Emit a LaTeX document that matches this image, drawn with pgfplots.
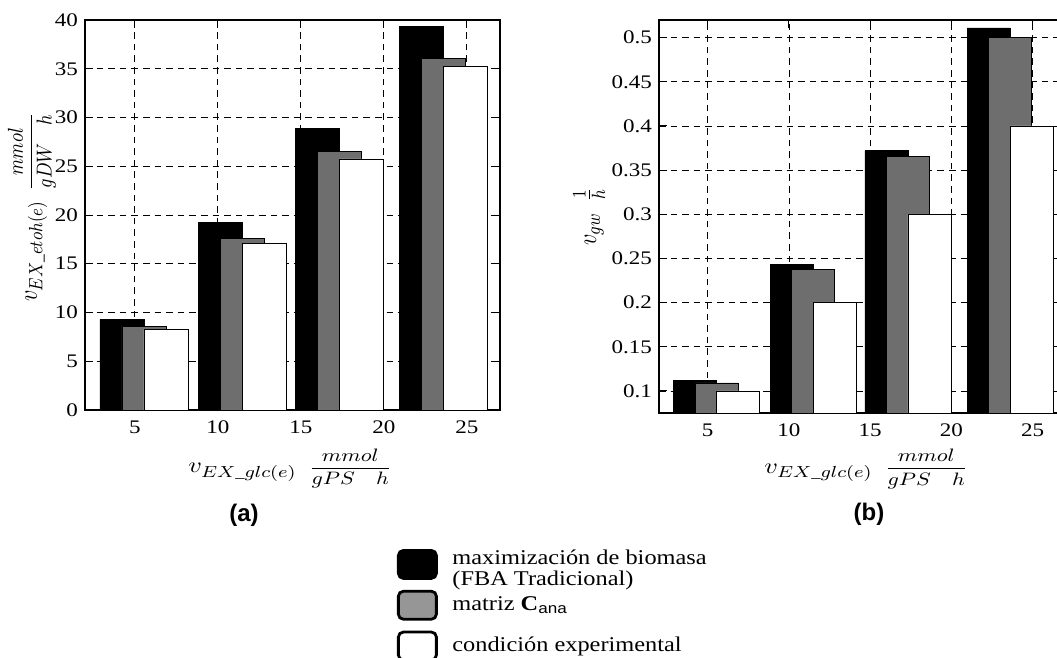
\documentclass[border=0pt]{standalone}
\usepackage{fontspec}
\setmainfont{Liberation Serif}
\newfontfamily\arial{Liberation Sans}
\usepackage{amsmath}
\usepackage{graphicx}
\usepackage{pgfplots}
\pgfplotsset{compat=1.18}

\definecolor{bargray}{RGB}{110,110,110}
\definecolor{leggray}{RGB}{150,150,150}

\pgfplotstableread{
x      y
4.225  9.30
10.175 19.20
16.005 28.90
22.295 39.30
}\leftblack
\pgfplotstableread{
x      y
5.55   8.60
11.50  17.60
17.33  26.50
23.62  36.10
}\leftgray
\pgfplotstableread{
x      y
6.875  8.25
12.825 17.10
18.655 25.75
24.945 35.25
}\leftwhite
\pgfplotstableread{
x      y
4.225  0.112
10.175 0.243
16.005 0.372
22.295 0.511
}\rightblack
\pgfplotstableread{
x      y
5.55   0.109
11.50  0.238
17.33  0.365
23.62  0.500
}\rightgray
\pgfplotstableread{
x      y
6.875  0.100
12.825 0.200
18.655 0.300
24.945 0.400
}\rightwhite

\newcommand{\sx}[1]{\scalebox{1.2}[1]{#1}}
\newcommand{\sy}[1]{\scalebox{1}[1.2]{#1}}
\newcommand{\lx}[1]{\scalebox{1.16}[1]{#1}}
\newcommand{\vlab}[3]{{\fontsize{11}{13}\selectfont$v_{#1}$\hspace{5pt}{\fontsize{8.8}{10}\selectfont$\dfrac{#2}{#3}$}}}
\newcommand{\vlabs}[3]{{\fontsize{11}{13}\selectfont$v_{#1}\ \ \tfrac{#2}{#3}$}}

\pgfplotsset{
  myax/.style={
    scale only axis,
    ybar, bar width=2.65,
    xmin=2, xmax=27,
    xtick={5,10,15,20,25},
    grid=major,
    major grid style={dash pattern=on 3.3pt off 2.5pt, black, line width=0.4pt},
    tick align=inside,
    major tick length=4pt,
    tick style={black, line width=0.5pt},
    axis line style={line width=0.6pt},
    tick label style={font=\fontsize{9.6}{11}\selectfont},
    xticklabel style={yshift=-2pt},
    /pgf/number format/assume math mode=true,
    xticklabel={\sx{\pgfmathprintnumber{\tick}}},
    legend image code/.code={\draw[#1, draw=black, line width=1.4pt, rounded corners=2.5pt] (0pt,-7pt) rectangle (19pt,7pt); \path (26.8pt,0pt);},
  },
  blk/.style={draw=black, line width=0.4pt, fill=black, bar shift=0pt},
  gry/.style={draw=black, line width=0.4pt, fill=bargray, bar shift=0pt},
  wht/.style={draw=black, line width=0.4pt, fill=white, bar shift=0pt},
}

\begin{document}
\begin{tikzpicture}[x=1pt,y=1pt]
\useasboundingbox (0,0) rectangle (528.5,329);

\begin{axis}[myax,
  at={(42.5pt,124pt)}, anchor=south west,
  width=207.5pt, height=195pt,
  ymin=0, ymax=40,
  ytick={0,5,10,15,20,25,30,35,40},
  yticklabel={\sx{\pgfmathprintnumber{\tick}}},
  xlabel={\sx{\vlab{EX\_glc(e)}{mmol}{gPS\quad h}}},
  xlabel style={at={(axis description cs:0.494,-0.150)}, anchor=center},
  ylabel={\sy{\vlab{EX\_etoh(e)}{mmol}{gDW\quad h}}},
  ylabel style={at={(axis description cs:-0.128,0.52)}, anchor=center},
  legend style={at={(axis description cs:0.7518,-0.3565)}, anchor=north west,
    draw=none, fill=none, inner sep=0pt, outer sep=0pt,
    font=\fontsize{10.5}{10}\selectfont,
    nodes={inner sep=0pt, outer sep=0pt},
    cells={anchor=west}, row sep=5pt},
]
\addplot[blk] table[x=x,y=y] {\leftblack};
\addlegendentry{\lx{\begin{tabular}{@{}l@{}}maximización de biomasa\\(FBA Tradicional)\end{tabular}}}
\addplot[gry, legend image post style={fill=leggray}] table[x=x,y=y] {\leftgray};
\addlegendentry{\lx{matriz \textbf{C}\textsubscript{\arial ana}}}
\addplot[wht] table[x=x,y=y] {\leftwhite};
\addlegendentry{\lx{condición experimental}}
\end{axis}

\begin{axis}[myax,
  at={(329.5pt,122.5pt)}, anchor=south west,
  width=203pt, height=196.5pt,
  ymin=0.075, ymax=0.52,
  ytick={0.1,0.15,0.2,0.25,0.3,0.35,0.4,0.45,0.5},
  yticklabels={\sx{0.1},\sx{0.15},\sx{0.2},\sx{0.25},\sx{0.3},\sx{0.35},\sx{0.4},\sx{0.45},\sx{0.5}},
  xlabel={\sx{\vlab{EX\_glc(e)}{mmol}{gPS\quad h}}},
  xlabel style={at={(axis description cs:0.51,-0.142)}, anchor=center},
  ylabel={\sy{\vlabs{gw}{1}{h}}},
  ylabel style={at={(axis description cs:-0.172,0.5)}, anchor=center},
]
\addplot[blk] table[x=x,y=y] {\rightblack};
\addplot[gry] table[x=x,y=y] {\rightgray};
\addplot[wht] table[x=x,y=y] {\rightwhite};
\end{axis}

\node[font=\arial\bfseries\fontsize{12}{14}\selectfont] at (122,71.5) {(a)};
\node[font=\arial\bfseries\fontsize{12}{14}\selectfont] at (434.5,72) {(b)};
\end{tikzpicture}
\end{document}
